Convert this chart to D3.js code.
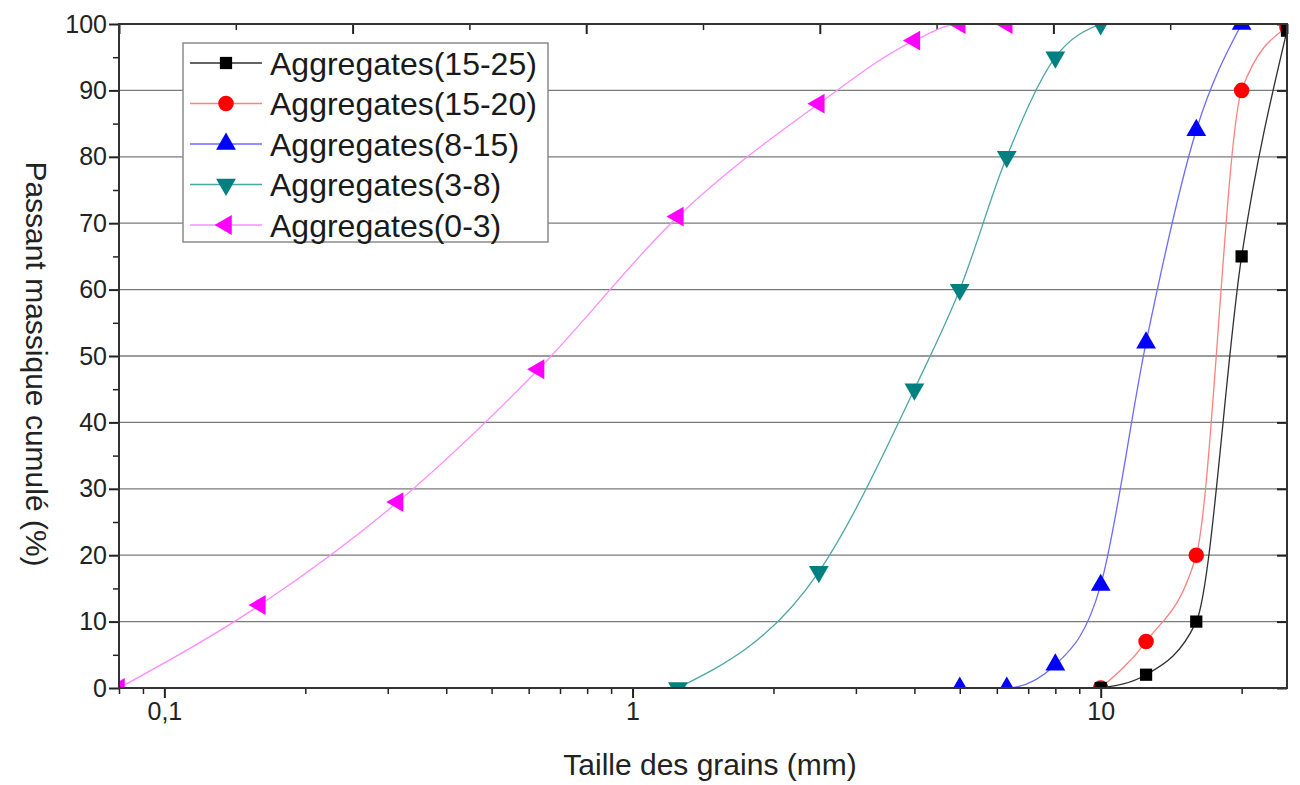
<!DOCTYPE html>
<html>
<head>
<meta charset="utf-8">
<script src="https://cdn.jsdelivr.net/npm/d3@7"></script>
<style>
  html, body { margin: 0; padding: 0; background: #fff; }
  svg { display: block; font-family: "Liberation Sans", Arial, sans-serif; }
</style>
</head>
<body>
<svg id="chart" width="1300" height="785"></svg>
<script>
// Sieve sizes (mm) and cumulative passing (%) per aggregate fraction
const sizes15_25 = [10, 12.5, 16, 20, 25];
const pass15_25  = [0, 2, 10, 65, 99];

const sizes15_20 = [10, 12.5, 16, 20, 25];
const pass15_20  = [0, 7, 20, 90, 99.5];

const sizes8_15 = [5, 6.3, 8, 10, 12.5, 16, 20];
const pass8_15  = [0, 0, 3.5, 15.5, 52, 84, 100];

const sizes3_8 = [1.25, 2.5, 4, 5, 6.3, 8, 10];
const pass3_8  = [0, 17.5, 45, 60, 80, 95, 100];

const sizes0_3 = [0.08, 0.16, 0.315, 0.63, 1.25, 2.5, 4, 5, 6.3];
const pass0_3  = [0, 12.5, 28, 48, 71, 88, 97.5, 100, 100];

const seriesNames = ["Aggregates(15-25)", "Aggregates(15-20)", "Aggregates(8-15)", "Aggregates(3-8)", "Aggregates(0-3)"];

const xMajorTicks = [0.1, 1, 10];
const xMajorLabels = ["0,1", "1", "10"];
const yTicks = [0, 10, 20, 30, 40, 50, 60, 70, 80, 90, 100];

const xLabel = "Taille des grains (mm)";
const yLabel = "Passant massique cumulé (%)";

// Styles per series
const styles = [
  { color: "#000000", line: "#303030", symbol: d3.symbolSquare, size: 150, rot: 0 },
  { color: "#ff0000", line: "#ff8080", symbol: d3.symbolCircle, size: 190, rot: 0 },
  { color: "#0000ff", line: "#6b6bff", symbol: d3.symbolTriangle, size: 170, rot: 0 },
  { color: "#008080", line: "#4da6a6", symbol: d3.symbolTriangle, size: 170, rot: 180 },
  { color: "#ff00ff", line: "#ff8cff", symbol: d3.symbolTriangle, size: 170, rot: -90 }
];

const series = [
  { name: seriesNames[0], xs: sizes15_25, ys: pass15_25 },
  { name: seriesNames[1], xs: sizes15_20, ys: pass15_20 },
  { name: seriesNames[2], xs: sizes8_15, ys: pass8_15 },
  { name: seriesNames[3], xs: sizes3_8, ys: pass3_8 },
  { name: seriesNames[4], xs: sizes0_3, ys: pass0_3 }
];

const svg = d3.select("#chart");
const L = 119, R = 1287, T = 24, B = 688;

const x = d3.scaleLog().domain([0.08, 25]).range([L, R]);
const y = d3.scaleLinear().domain([0, 100]).range([B, T]);

// Horizontal grid
svg.append("g")
  .selectAll("line")
  .data(yTicks.filter(v => v > 0 && v < 100))
  .join("line")
  .attr("x1", L).attr("x2", R)
  .attr("y1", d => y(d)).attr("y2", d => y(d))
  .attr("stroke", "#7a7a7a").attr("stroke-width", 1.3);

// Minor x ticks (2..9 each decade)
const xMinor = [];
[0.01, 0.1, 1, 10].forEach(dec => {
  for (let k = 2; k <= 9; k++) {
    const v = dec * k;
    if (v >= 0.08 && v <= 25 && !xMajorTicks.includes(v)) xMinor.push(v);
  }
});

// Bottom axis
const gx = svg.append("g").attr("transform", `translate(0,${B})`);
gx.call(d3.axisBottom(x).tickValues(xMajorTicks).tickFormat((d, i) => xMajorLabels[i]).tickSize(10).tickSizeOuter(0));
gx.selectAll(".tick line").attr("stroke", "#222").attr("stroke-width", 2);
gx.selectAll(".tick text").attr("font-size", 25).attr("fill", "#222").attr("y", 14).attr("dy", "0.71em")
  .attr("font-family", "Liberation Sans, Arial, sans-serif");
gx.select(".domain").remove();
svg.append("g").attr("transform", `translate(0,${B})`)
  .call(d3.axisBottom(x).tickValues(xMinor).tickFormat("").tickSize(6).tickSizeOuter(0))
  .call(g => g.select(".domain").remove())
  .selectAll(".tick line").attr("stroke", "#222").attr("stroke-width", 1.5);

// Top axis (linear, inward ticks, no labels)
const xTop = d3.scaleLinear().domain([0, 25]).range([L, R]);
svg.append("g").attr("transform", `translate(0,${T})`)
  .call(d3.axisTop(xTop).tickValues([0, 5, 10, 15, 20, 25]).tickFormat("").tickSize(-10).tickSizeOuter(0))
  .call(g => g.select(".domain").remove())
  .selectAll(".tick line").attr("stroke", "#222").attr("stroke-width", 2);
svg.append("g").attr("transform", `translate(0,${T})`)
  .call(d3.axisTop(xTop).tickValues([2.5, 7.5, 12.5, 17.5, 22.5]).tickFormat("").tickSize(-6).tickSizeOuter(0))
  .call(g => g.select(".domain").remove())
  .selectAll(".tick line").attr("stroke", "#222").attr("stroke-width", 1.5);

// Left axis
const gy = svg.append("g").attr("transform", `translate(${L},0)`);
gy.call(d3.axisLeft(y).tickValues(yTicks).tickSize(10).tickSizeOuter(0));
gy.select(".domain").remove();
gy.selectAll(".tick line").attr("stroke", "#222").attr("stroke-width", 2);
gy.selectAll(".tick text").attr("font-size", 25).attr("fill", "#222").attr("x", -12)
  .attr("font-family", "Liberation Sans, Arial, sans-serif");
svg.append("g").attr("transform", `translate(${L},0)`)
  .call(d3.axisLeft(y).tickValues(d3.range(5, 100, 10)).tickFormat("").tickSize(6).tickSizeOuter(0))
  .call(g => g.select(".domain").remove())
  .selectAll(".tick line").attr("stroke", "#222").attr("stroke-width", 1.5);

// Right axis (inward ticks)
svg.append("g").attr("transform", `translate(${R},0)`)
  .call(d3.axisRight(y).tickValues(yTicks).tickFormat("").tickSize(-10).tickSizeOuter(0))
  .call(g => g.select(".domain").remove())
  .selectAll(".tick line").attr("stroke", "#222").attr("stroke-width", 2);

// Series lines and markers, clipped to the plot frame
svg.append("defs").append("clipPath").attr("id", "plotclip")
  .append("rect").attr("x", L).attr("y", T).attr("width", R - L).attr("height", B - T);

const lineGen = d3.line().curve(d3.curveMonotoneX).x(d => x(d[0])).y(d => y(d[1]));
const plot = svg.append("g").attr("clip-path", "url(#plotclip)");

// draw order: last series first so the coarser fractions sit on top
series.slice().reverse().forEach((s, ri) => {
  const i = series.length - 1 - ri;
  const st = styles[i];
  const pts = s.xs.map((v, k) => [v, s.ys[k]]);
  plot.append("path")
    .attr("d", lineGen(pts))
    .attr("fill", "none")
    .attr("stroke", st.line)
    .attr("stroke-width", 1.3);
  plot.append("g").selectAll("path")
    .data(pts)
    .join("path")
    .attr("d", d3.symbol().type(st.symbol).size(st.size))
    .attr("transform", d => `translate(${x(d[0])},${y(d[1])}) rotate(${st.rot})`)
    .attr("fill", st.color);
});

// Frame
svg.append("rect")
  .attr("x", L).attr("y", T).attr("width", R - L).attr("height", B - T)
  .attr("fill", "none").attr("stroke", "#333").attr("stroke-width", 2);

// Legend
const lg = svg.append("g");
lg.append("rect")
  .attr("x", 183).attr("y", 43).attr("width", 365).attr("height", 199)
  .attr("fill", "#fff").attr("stroke", "#8a8a8a").attr("stroke-width", 1.5);
series.forEach((s, i) => {
  const st = styles[i];
  const cy = 63 + i * 40.5;
  lg.append("line").attr("x1", 190).attr("x2", 262).attr("y1", cy).attr("y2", cy)
    .attr("stroke", st.line).attr("stroke-width", 1.3);
  lg.append("path")
    .attr("d", d3.symbol().type(st.symbol).size(st.size)())
    .attr("transform", `translate(226,${cy}) rotate(${st.rot})`)
    .attr("fill", st.color);
  lg.append("text").attr("x", 270).attr("y", cy).attr("dy", "0.36em")
    .attr("font-size", 32).attr("fill", "#1a1a1a").text(s.name);
});

// Axis titles
svg.append("text")
  .attr("x", 710).attr("y", 775)
  .attr("text-anchor", "middle").attr("font-size", 30).attr("fill", "#222")
  .text(xLabel);
svg.append("text")
  .attr("transform", `translate(26,${(T + B) / 2 + 8}) rotate(90)`)
  .attr("text-anchor", "middle").attr("font-size", 30).attr("fill", "#222")
  .text(yLabel);
</script>
</body>
</html>
